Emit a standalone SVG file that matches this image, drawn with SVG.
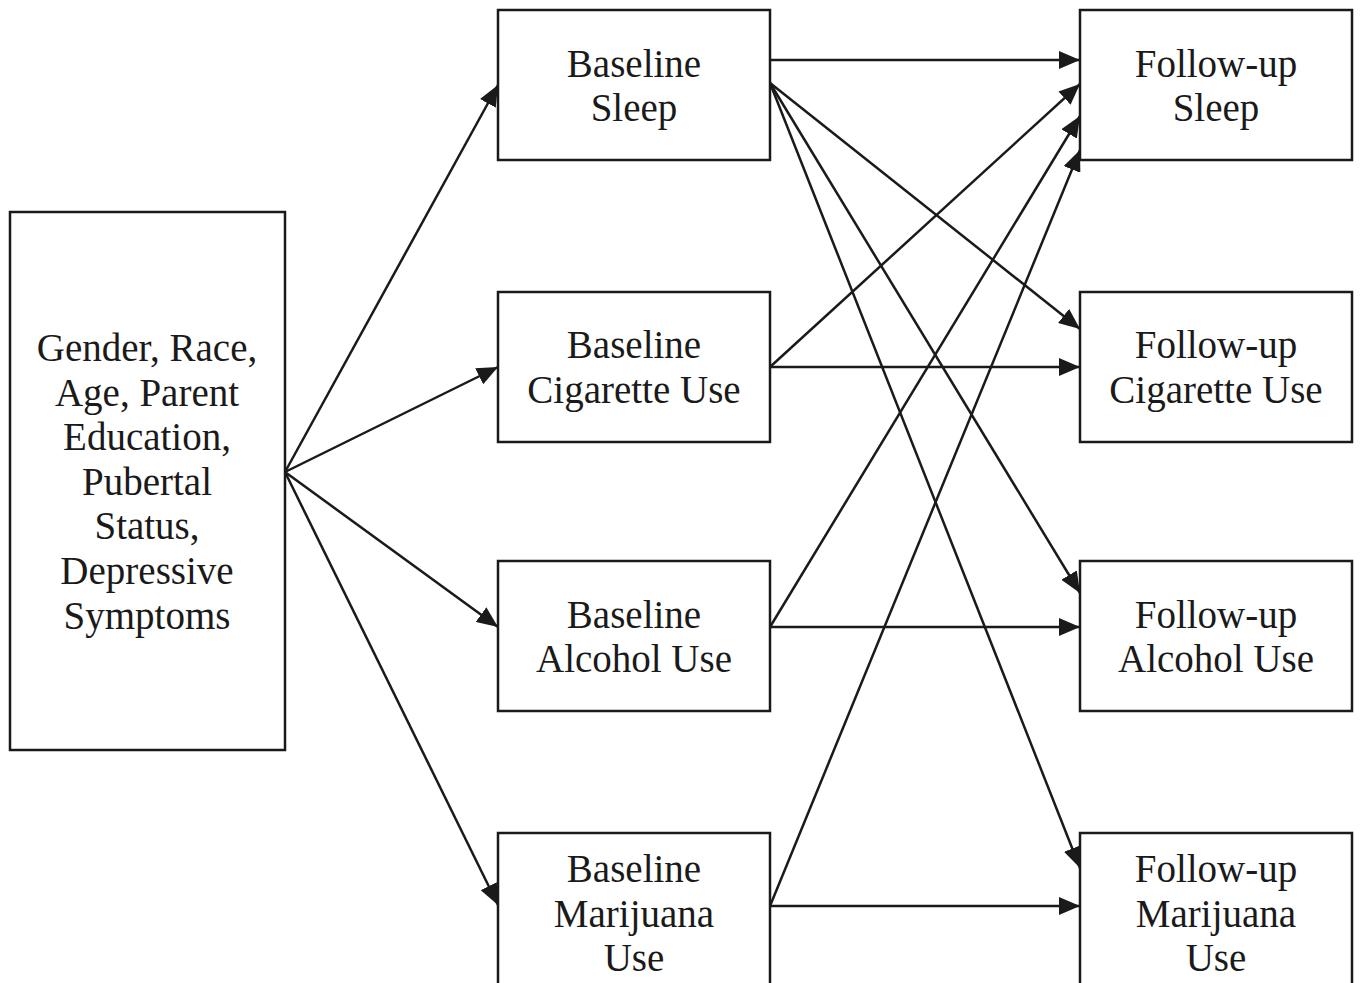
<svg xmlns="http://www.w3.org/2000/svg" width="1360" height="983" viewBox="0 0 1360 983">
<style>
.box{fill:#fff;stroke:#1a1a1a;stroke-width:2.5}
.lbl{font-family:"Liberation Serif","Times New Roman",serif;font-size:39px;fill:#1a1a1a;text-anchor:middle}
.c{stroke:#1a1a1a;stroke-width:2.5;fill:none;marker-end:url(#ah)}
</style>
<defs>
<marker id="ah" markerUnits="userSpaceOnUse" markerWidth="22" markerHeight="18" refX="21" refY="9" orient="auto">
<path d="M0,0 L21,9 L0,18 Z" fill="#1a1a1a"/>
</marker>
</defs>
<rect width="1360" height="983" fill="#fff"/>
<g id="connectors">
<line class="c" x1="285" y1="472" x2="498" y2="85"/>
<line class="c" x1="285" y1="472" x2="498" y2="367"/>
<line class="c" x1="285" y1="472" x2="498" y2="627"/>
<line class="c" x1="285" y1="472" x2="498" y2="905"/>
<line class="c" x1="770" y1="60" x2="1080" y2="60"/>
<line class="c" x1="770" y1="83" x2="1080" y2="329"/>
<line class="c" x1="770" y1="83" x2="1080" y2="593"/>
<line class="c" x1="770" y1="83" x2="1080" y2="868"/>
<line class="c" x1="770" y1="367" x2="1080" y2="84"/>
<line class="c" x1="770" y1="367" x2="1080" y2="367"/>
<line class="c" x1="770" y1="627" x2="1080" y2="116"/>
<line class="c" x1="770" y1="627" x2="1080" y2="627"/>
<line class="c" x1="770" y1="906" x2="1080" y2="150"/>
<line class="c" x1="770" y1="906" x2="1080" y2="906"/>
</g>
<g id="covariates">
<rect class="box" x="10" y="212" width="275" height="538"/>
<text class="lbl" x="147" y="361">Gender, Race,</text>
<text class="lbl" x="147" y="406">Age, Parent</text>
<text class="lbl" x="147" y="450">Education,</text>
<text class="lbl" x="147" y="495">Pubertal</text>
<text class="lbl" x="147" y="539">Status,</text>
<text class="lbl" x="147" y="584">Depressive</text>
<text class="lbl" x="147" y="629">Symptoms</text>
</g>
<g id="baseline-sleep">
<rect class="box" x="498" y="10" width="272" height="150"/>
<text class="lbl" x="634" y="77">Baseline</text>
<text class="lbl" x="634" y="121">Sleep</text>
</g>
<g id="baseline-cigarette">
<rect class="box" x="498" y="292" width="272" height="150"/>
<text class="lbl" x="634" y="358">Baseline</text>
<text class="lbl" x="634" y="403">Cigarette Use</text>
</g>
<g id="baseline-alcohol">
<rect class="box" x="498" y="561" width="272" height="150"/>
<text class="lbl" x="634" y="628">Baseline</text>
<text class="lbl" x="634" y="672">Alcohol Use</text>
</g>
<g id="baseline-marijuana">
<rect class="box" x="498" y="833" width="272" height="164"/>
<text class="lbl" x="634" y="882">Baseline</text>
<text class="lbl" x="634" y="927">Marijuana</text>
<text class="lbl" x="634" y="971">Use</text>
</g>
<g id="followup-sleep">
<rect class="box" x="1080" y="10" width="272" height="150"/>
<text class="lbl" x="1216" y="77">Follow-up</text>
<text class="lbl" x="1216" y="121">Sleep</text>
</g>
<g id="followup-cigarette">
<rect class="box" x="1080" y="292" width="272" height="150"/>
<text class="lbl" x="1216" y="358">Follow-up</text>
<text class="lbl" x="1216" y="403">Cigarette Use</text>
</g>
<g id="followup-alcohol">
<rect class="box" x="1080" y="561" width="272" height="150"/>
<text class="lbl" x="1216" y="628">Follow-up</text>
<text class="lbl" x="1216" y="672">Alcohol Use</text>
</g>
<g id="followup-marijuana">
<rect class="box" x="1080" y="833" width="272" height="164"/>
<text class="lbl" x="1216" y="882">Follow-up</text>
<text class="lbl" x="1216" y="927">Marijuana</text>
<text class="lbl" x="1216" y="971">Use</text>
</g>
</svg>
